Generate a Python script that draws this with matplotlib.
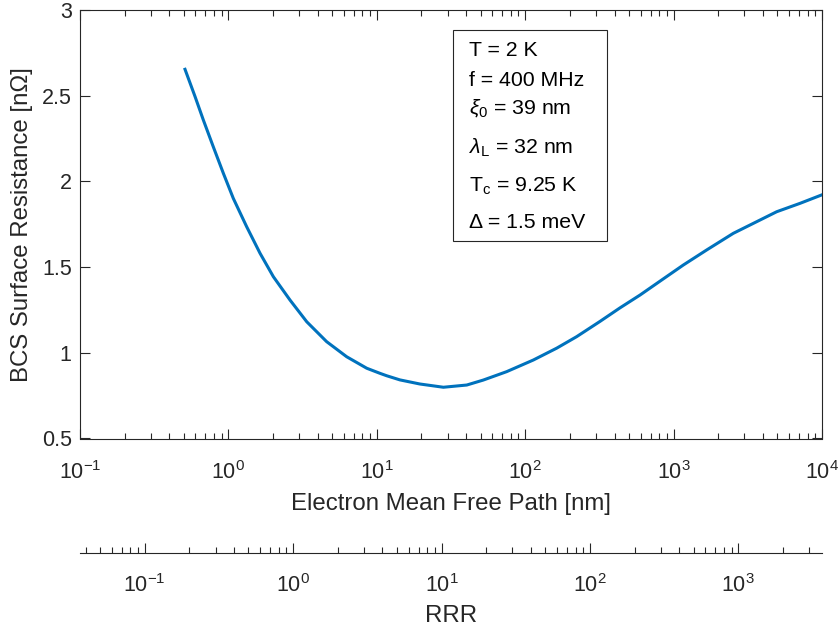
import matplotlib
matplotlib.use('Agg')
from matplotlib import pyplot as plt
from matplotlib.ticker import LogLocator, NullFormatter, MultipleLocator, FormatStrFormatter

plt.rcParams['font.family'] = ['Liberation Sans', 'DejaVu Sans']
plt.rcParams['mathtext.fontset'] = 'custom'
plt.rcParams['mathtext.rm'] = 'Liberation Sans'
plt.rcParams['mathtext.it'] = 'Liberation Sans:italic'
plt.rcParams['mathtext.bf'] = 'Liberation Sans:bold'

# data
mfp = [0.510, 0.596, 0.678, 0.791, 0.925, 1.079, 1.327, 1.633, 2.009, 2.600, 3.373,
       4.592, 6.266, 8.551, 10.52, 11.67, 14.3, 19.5, 28.1, 40.4, 52.2, 75.0, 113.5,
       163, 222, 319, 435, 594, 832, 1162, 1671, 2525, 3631, 4950, 7112, 9950]
rs = [2.654, 2.495, 2.358, 2.202, 2.047, 1.901, 1.736, 1.581, 1.444, 1.308, 1.181,
      1.065, 0.977, 0.910, 0.880, 0.866, 0.842, 0.818, 0.799, 0.812, 0.841, 0.890, 0.958,
      1.027, 1.094, 1.183, 1.262, 1.337, 1.425, 1.512, 1.600, 1.697, 1.765, 1.823, 1.872, 1.921]

params = ['T = 2 K', 'f = 400 MHz', r'$\xi_\mathrm{0}$ = 39 nm',
          r'$\lambda_\mathrm{L}$ = 32 nm', r'T$_\mathrm{c}$ = 9.25 K', 'Δ = 1.5 meV']
param_y = [50.7, 80, 108, 147.5, 186.7, 222.5]  # pixel rows of the text lines

rrr_factor = 2.73  # nm per unit RRR

W, H = 840, 626
dark = '#262626'
fig = plt.figure(figsize=(W / 100, H / 100), dpi=100)

l, r, b, t = 80, 822, 438.5, 10
ax = fig.add_axes([l / W, 1 - b / H, (r - l) / W, (b - t) / H])
ax.plot(mfp, rs, color='#0072BD', lw=2.2, solid_joinstyle='round')
ax.set_xscale('log')
ax.set_xlim(0.1, 1e4)
ax.set_ylim(0.5, 3)
ax.yaxis.set_major_locator(MultipleLocator(0.5))
ax.yaxis.set_major_formatter(FormatStrFormatter('%g'))
ax.xaxis.set_major_locator(LogLocator(base=10, numticks=10))
ax.xaxis.set_minor_locator(LogLocator(base=10, subs=range(2, 10), numticks=20))
ax.xaxis.set_minor_formatter(NullFormatter())
ax.tick_params(which='both', direction='in', top=True, right=True, colors=dark,
               labelsize=15.5, width=0.8)
ax.tick_params(which='major', length=7)
ax.tick_params(which='minor', length=4)
ax.tick_params(axis='x', pad=16)
ax.tick_params(axis='y', pad=6)
for s in ax.spines.values():
    s.set_color(dark)
    s.set_linewidth(0.8)
ax.set_xlabel('Electron Mean Free Path [nm]', fontsize=17.3, color=dark, labelpad=7)
ax.set_ylabel('BCS Surface Resistance [n\u03a9]', fontsize=17.3, color=dark, labelpad=6)

# parameter box
bx0, bx1, by0, by1 = 453.3, 606.7, 30, 241
fig.patches.append(plt.Rectangle((bx0 / W, 1 - by1 / H), (bx1 - bx0) / W, (by1 - by0) / H,
                                 transform=fig.transFigure, fill=True, facecolor='white',
                                 edgecolor=dark, lw=0.8, zorder=5))
for txt, py in zip(params, param_y):
    fig.text(469 / W, 1 - py / H, txt, fontsize=15.3, color='black', va='center', ha='left',
             zorder=6)

# RRR axis
ya = 553
ax2 = fig.add_axes([l / W, 1 - ya / H, (r - l) / W, 1e-5])
ax2.set_xscale('log')
ax2.set_xlim(0.1 / rrr_factor, 1e4 / rrr_factor)
ax2.set_yticks([])
for k in ['left', 'right', 'top']:
    ax2.spines[k].set_visible(False)
ax2.spines['bottom'].set_color(dark)
ax2.spines['bottom'].set_linewidth(0.8)
ax2.xaxis.set_major_locator(LogLocator(base=10, numticks=10))
ax2.xaxis.set_minor_locator(LogLocator(base=10, subs=range(2, 10), numticks=20))
ax2.xaxis.set_minor_formatter(NullFormatter())
ax2.tick_params(which='both', direction='in', colors=dark, labelsize=15.5, width=0.8)
ax2.tick_params(which='major', length=7, pad=15)
ax2.tick_params(which='minor', length=4)
ax2.set_xlabel('RRR', fontsize=17.3, color=dark, labelpad=6)

fig.savefig('out.png', dpi=100)
